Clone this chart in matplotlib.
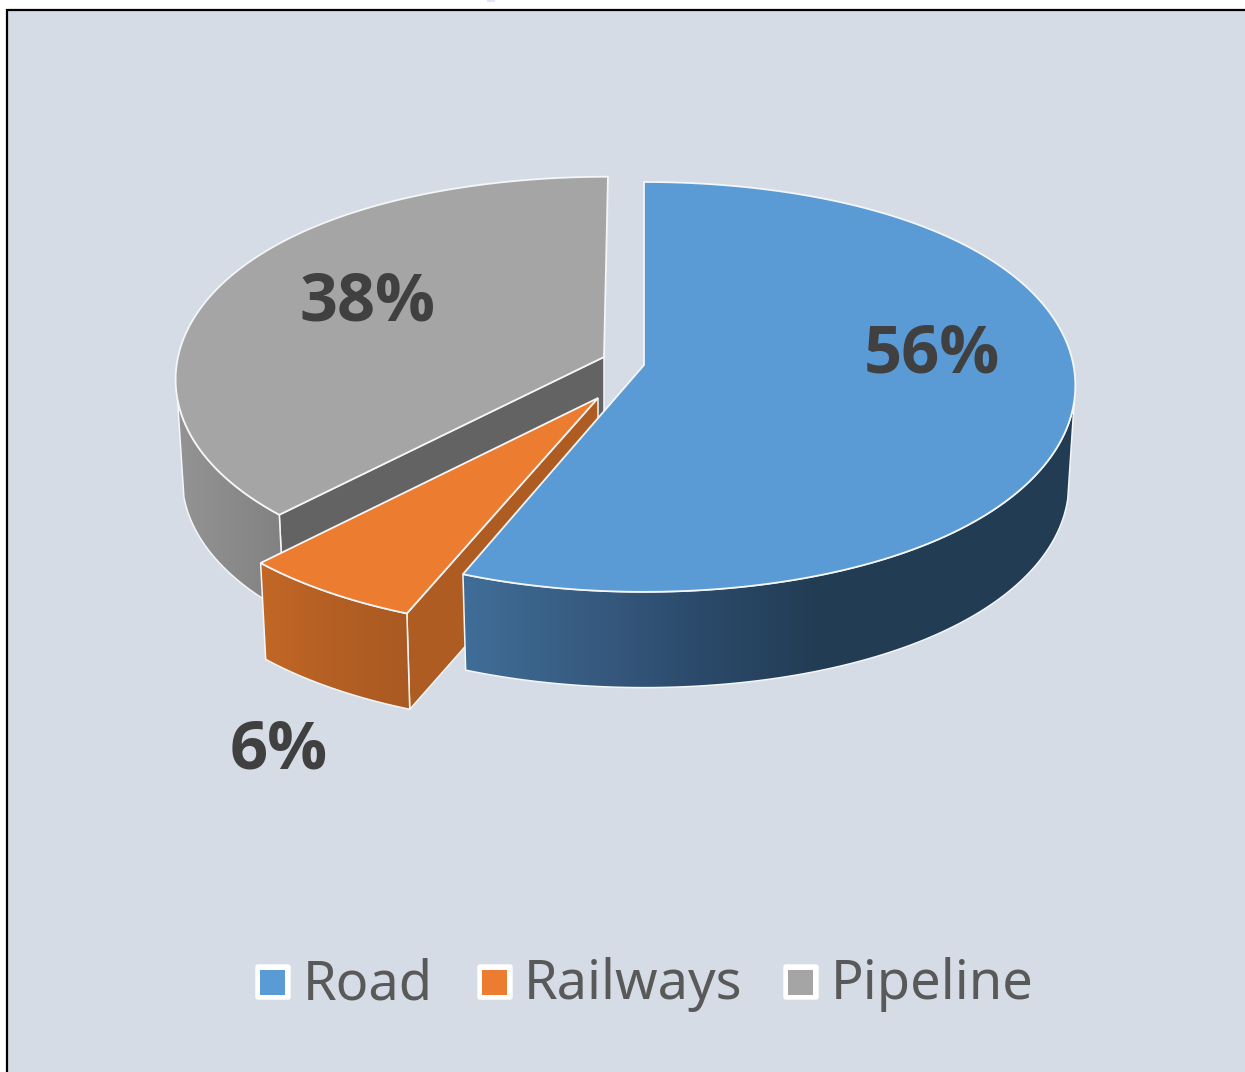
#!/usr/bin/env python3
import matplotlib
matplotlib.use("Agg")
import matplotlib.pyplot as plt
import numpy as np
from matplotlib.colors import LinearSegmentedColormap
from matplotlib.patches import FancyBboxPatch, Polygon, Rectangle

categories = ["Road", "Railways", "Pipeline"]
shares = [56, 6, 38]
top_colors = ["#5b9bd5", "#ec7c30", "#a5a5a5"]
wall_colors = [None, "#ae5c22", "#636363"]
rim_stops = [
    [(461, "#406e98"), (600, "#36597e"), (700, "#2b4a6b"), (810, "#233d55"), (1075, "#223c53")],
    [(262, "#c26726"), (330, "#b55f24"), (410, "#a95a22")],
    [(175, "#949494"), (230, "#8b8b8b"), (280, "#828282")],
]

# exploded slice placement: apex pixel, x and y scale, shear
slice_apex = [(644, 365), (598, 398), (604, 357)]
slice_scale = [(1.008, 1.0), (1.04, 1.03), (1.0, 0.985)]
slice_shear = [0.0, -0.02, -0.022]
# part of each slice's outer wall that faces the viewer, in degrees
rim_range = [(100.0, 201.6), (201.6, 223.2), (223.2, 258.0)]

label_xy = [(932, 347), (279, 743), (367, 295)]
legend_swatch_x = [255, 477, 783]
legend_text_x = [303, 524, 831]

RADIUS_X = 426.0
RADIUS_Y = 202.6
PERSP_Y = 0.107
DEPTH = 98.0
BOTTOM_SX = 0.985
BOTTOM_SY = 0.99
EDGE = "#f4f6f8"


def rim_point(idx, theta):
    # angle runs clockwise from twelve o'clock
    ax_, ay_ = slice_apex[idx]
    sx, sy = slice_scale[idx]
    u = np.sin(np.radians(theta))
    v = np.cos(np.radians(theta))
    dy = -RADIUS_Y * v / (1 + PERSP_Y * v) * sy
    dx = RADIUS_X * u / (1 + 0.09 * v - 0.05 * v * v) * sx + slice_shear[idx] * dy
    return ax_ + dx, ay_ + dy


def lower(idx, pts):
    ax_, ay_ = slice_apex[idx]
    pts = np.asarray(pts, dtype=float)
    return np.column_stack([
        ax_ + (pts[:, 0] - ax_) * BOTTOM_SX,
        ay_ + DEPTH + (pts[:, 1] - ay_) * BOTTOM_SY,
    ])


def arc(idx, t0, t1):
    thetas = np.linspace(t0, t1, 160)
    return np.array([rim_point(idx, t) for t in thetas])


def gradient_fill(ax, verts, stops, zorder):
    x0, x1 = stops[0][0], stops[-1][0]
    cmap = LinearSegmentedColormap.from_list(
        "rim", [((x - x0) / (x1 - x0), c) for x, c in stops]
    )
    xs = verts[:, 0]
    grad = np.clip((np.linspace(xs.min(), xs.max(), 512) - x0) / (x1 - x0), 0, 1)
    im = ax.imshow(
        grad[None, :], cmap=cmap, vmin=0, vmax=1, aspect="auto", zorder=zorder,
        extent=(xs.min(), xs.max(), verts[:, 1].max(), verts[:, 1].min()),
    )
    poly = Polygon(verts, closed=True, fc="none", ec=EDGE, lw=1.1, zorder=zorder + 0.1)
    ax.add_patch(poly)
    im.set_clip_path(poly)


def draw_slice(ax, idx, t0, t1, z):
    apex = np.array(slice_apex[idx], dtype=float)
    top = arc(idx, t0, t1)

    # cut face first, the top surface and later slices sit over it
    if wall_colors[idx] is not None:
        face = np.array([apex, top[0]])
        ax.add_patch(Polygon(
            np.vstack([face, lower(idx, face)[::-1]]), closed=True,
            fc=wall_colors[idx], ec=EDGE, lw=1.1, zorder=z,
        ))

    rim = arc(idx, *rim_range[idx])
    gradient_fill(ax, np.vstack([rim, lower(idx, rim)[::-1]]), rim_stops[idx], z + 1)

    ax.add_patch(Polygon(
        np.vstack([apex, top]), closed=True,
        fc=top_colors[idx], ec=EDGE, lw=1.3, zorder=z + 2,
    ))


def main():
    plt.rcParams["font.family"] = ["Noto Sans", "DejaVu Sans"]
    fig = plt.figure(figsize=(12.45, 10.72), dpi=100, facecolor="white")
    ax = fig.add_axes([0, 0, 1, 1])
    ax.axis("off")

    ax.add_patch(Rectangle((7, 10), 1250, 1075, fc="#d5dce6", ec="black", lw=1.6, zorder=0))
    ax.add_patch(Rectangle((487, -1), 8, 2.5, fc="#e2e2f4", ec="none", zorder=0))

    # slice angles come from the shares, clockwise from the top
    edges = np.concatenate([[0], np.cumsum(shares)]) * 360.0 / sum(shares)
    draw_slice(ax, 2, edges[2], edges[3], 1)
    draw_slice(ax, 1, edges[1], edges[2], 5)
    draw_slice(ax, 0, edges[0], edges[1], 9)

    for (x, y), value in zip(label_xy, shares):
        ax.text(x, y, f"{value}%", fontsize=48, fontweight="bold", family="Open Sans",
                color="#404040", ha="center", va="center_baseline", zorder=20)

    for name, color, sx, tx in zip(categories, top_colors, legend_swatch_x, legend_text_x):
        ax.add_patch(FancyBboxPatch(
            (sx + 1, 965), 34, 34, boxstyle="round,pad=0,rounding_size=2",
            fc="white", ec="white", lw=1, zorder=20,
        ))
        ax.add_patch(Rectangle((sx + 5, 970), 25, 25, fc=color, ec="none", zorder=21))
        ax.text(tx, 999, name, fontsize=39, color="#595959", ha="left", va="baseline", zorder=20)

    ax.set_xlim(0, 1245)
    ax.set_ylim(1072, 0)
    fig.savefig("out.png", dpi=100)
    plt.close(fig)


if __name__ == "__main__":
    main()
